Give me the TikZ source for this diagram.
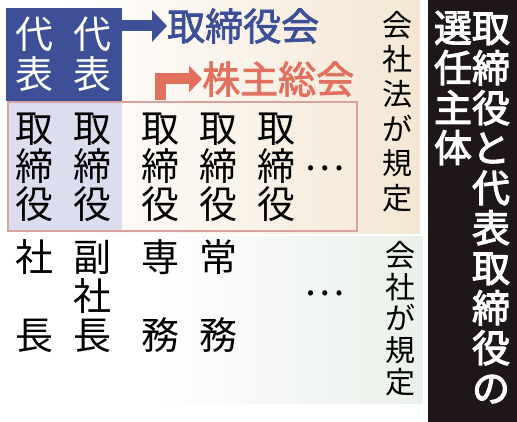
\documentclass[tikz,border=0pt]{standalone}
\usepackage{fontspec}
\newfontfamily\jp{Noto Sans CJK JP}
\newfontfamily\jpm{Noto Sans CJK JP}[FakeBold=2]
\newfontfamily\jpt{Noto Sans CJK JP}[FakeBold=2.8]
\usetikzlibrary{arrows.meta}
\definecolor{dblue}{HTML}{3C4F97}
\definecolor{salmon}{HTML}{E2705F}
\definecolor{pinkline}{HTML}{D9A29E}
\definecolor{lav}{HTML}{DCDDEE}
\definecolor{beige}{HTML}{F4E7D4}
\definecolor{greyg}{HTML}{EAF0EA}
\definecolor{panel}{HTML}{1E1617}
\tikzset{
  txt/.style={inner sep=0pt, align=center, font=\jp\fontsize{38}{38}\selectfont},
  lowtxt/.style={inner sep=0pt, align=center, font=\jp\fontsize{38}{39}\selectfont},
  headtxt/.style={inner sep=0pt, align=center, font=\jp\fontsize{38}{40}\selectfont},
  labeltxt/.style={inner sep=0pt, anchor=west, font=\jpm\fontsize{38}{38}\selectfont},
  sidetxt/.style={inner sep=0pt, align=center},
  titletxt/.style={inner sep=0pt, align=center, text=white, font=\jpt\fontsize{38}{40}\selectfont},
  blockarrow/.style={line width=11pt, line join=miter, line cap=butt}
}
\begin{document}
\begin{tikzpicture}[x=1pt,y=-1pt]
\useasboundingbox (0,0) rectangle (517,422);
\fill[white] (0,0) rectangle (517,422);
% backgrounds
\shade[left color=white, right color=beige] (60,0) rectangle (420,234);
\shade[left color=white, right color=greyg] (150,237) rectangle (423,403);
\fill[panel] (428,0) rectangle (517,422);
% pink box with lavender part
\fill[lav] (8,101) rectangle (122,230);
\node[draw=pinkline, line width=2pt, minimum width=349pt, minimum height=129pt, inner sep=0pt, anchor=north west] (pbox) at (7,101) {};
% blue box
\node[fill=dblue, minimum width=116pt, minimum height=93pt, inner sep=0pt, anchor=north west] (daibox) at (6,8) {};
\node[headtxt, text=white] (dai1) at (35,54) {代\\表};
\node[headtxt, text=white] (dai2) at (92,54) {代\\表};
% labels
\node[labeltxt, text=dblue] (board) at (167,26) {取締役会};
\node[labeltxt, text=salmon] (kabu) at (202,79) {株主総会};
% arrows
\draw[dblue, blockarrow, -{Triangle[width=31pt,length=15pt]}] (daibox.east |- board.west) -- (board.west);
\coordinate (pk) at (160.5,100);
\draw[salmon, blockarrow, -{Triangle[width=26pt,length=13pt]}] (pk) |- (kabu.west);
% directors
\node[txt] (d1) at (35,167) {取\\締\\役};
\node[txt] (d2) at (92,167) {取\\締\\役};
\node[txt] (d3) at (160,167) {取\\締\\役};
\node[txt] (d4) at (218,167) {取\\締\\役};
\node[txt] (d5) at (276,167) {取\\締\\役};
\node[txt] (ddots) at (325,168) {…};
% company titles
\node[lowtxt] (p1) at (35,296) {社\\\phantom{社}\\長};
\node[lowtxt] (p2) at (92,296) {副\\社\\長};
\node[lowtxt] (p3) at (160,296) {専\\\phantom{社}\\務};
\node[lowtxt] (p4) at (218,296) {常\\\phantom{社}\\務};
\node[lowtxt] (pdots) at (325,293) {…};
% side notes
\node[sidetxt, font=\jp\fontsize{30}{34.6}\selectfont] (law) at (397,111.5) {会\\社\\法\\が\\規\\定};
\node[sidetxt, font=\jp\fontsize{30}{31.75}\selectfont] (co) at (400,318.5) {会\\社\\が\\規\\定};
% title
\node[titletxt] (t1) at (491,208) {取\\締\\役\\と\\代\\表\\取\\締\\役\\の};
\node[titletxt] (t2) at (453,88) {選\\任\\主\\体};
\end{tikzpicture}
\end{document}
